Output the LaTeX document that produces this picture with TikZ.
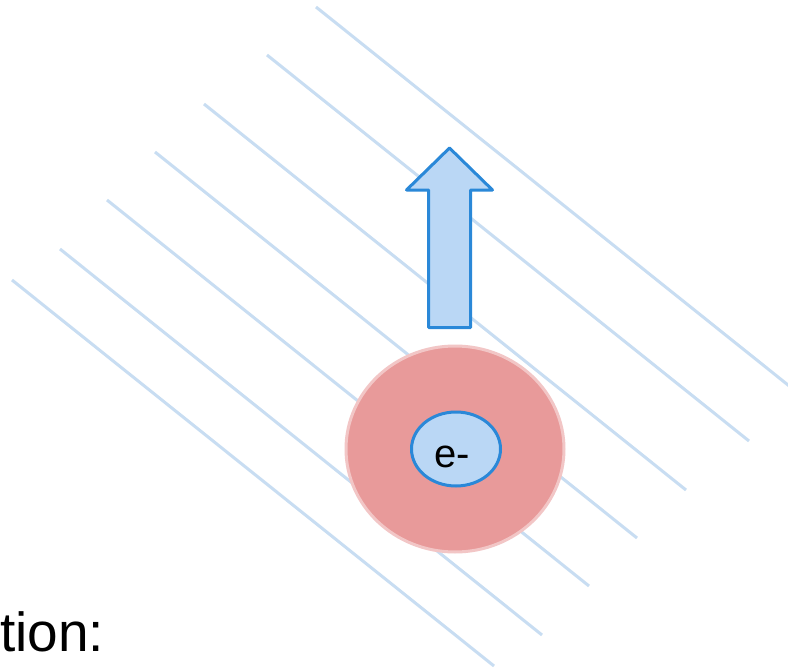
\documentclass[tikz,border=0pt]{standalone}
\usepackage{fontspec}
\setmainfont{Liberation Sans}
\usetikzlibrary{shapes.geometric}
\definecolor{fieldblue}{HTML}{C8DDF2}
\definecolor{edgeblue}{HTML}{2A88D8}
\definecolor{fillblue}{HTML}{BAD7F5}
\definecolor{shellred}{HTML}{E89A9A}
\definecolor{shellpink}{HTML}{F2C6C6}
\tikzset{
  fieldline/.style={draw=fieldblue, line width=3pt},
  shell/.style={ellipse, draw=shellpink, fill=shellred, line width=3pt, inner sep=0pt},
  electron/.style={ellipse, draw=edgeblue, fill=fillblue, line width=3pt, inner sep=0pt},
  bigarrow/.style={draw=edgeblue, fill=fillblue, line width=3pt, line join=round},
}
\begin{document}
\begin{tikzpicture}[x=1pt, y=-1pt]
\useasboundingbox (0,0) rectangle (788,669);
\clip (0,0) rectangle (788,669);
\fill[white] (0,0) rectangle (788,669);
% field lines
\foreach \sx/\sy in {316/7, 267/55, 204/104, 155/152, 107/200, 60/249, 12/280}{
  \draw[fieldline] (\sx,\sy) -- ++(482,386);
}
% arrow
\draw[bigarrow] (428.5,327.5) -- (428.5,190) -- (406.5,190) -- (449.5,148)
  -- (492.5,190) -- (470.5,190) -- (470.5,327.5) -- cycle;
% atom
\node[shell, minimum width=218pt, minimum height=206pt] (shell) at (455,449) {};
\node[electron, minimum width=89pt, minimum height=74pt] (electron) at (456,449) {};
\node[inner sep=0pt, anchor=base] (elabel) at (452,467) {\fontsize{40}{44}\selectfont e-};
% caption
\node[inner sep=0pt, anchor=base west] (caption) at (0,651) {\fontsize{55}{60}\selectfont tion:};
\end{tikzpicture}
\end{document}
